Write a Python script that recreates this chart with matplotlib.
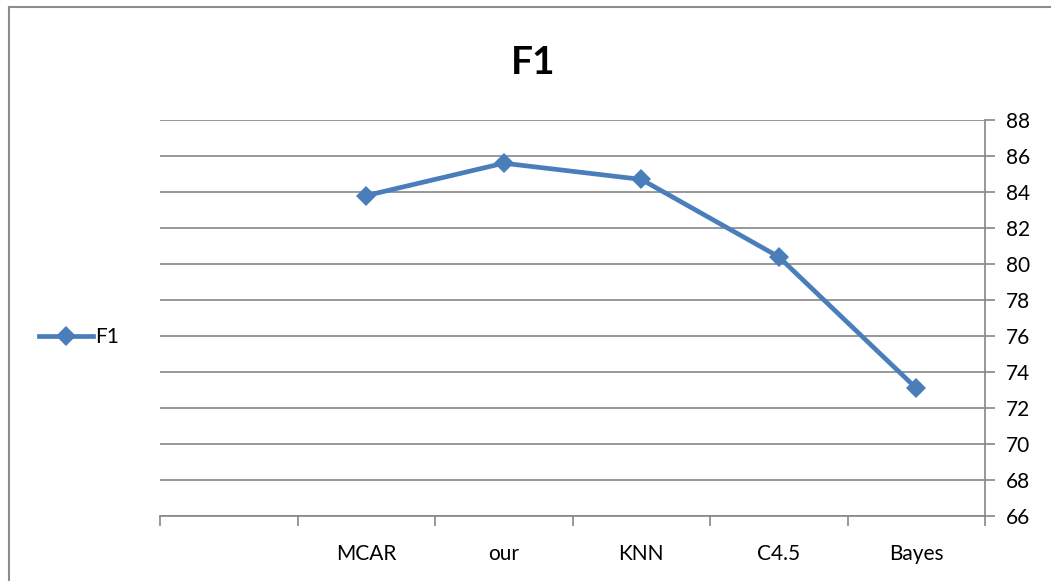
import numpy as np
import matplotlib
matplotlib.use('Agg')
import matplotlib.pyplot as plt
from matplotlib.lines import Line2D

# categories (first slot is empty in the original chart)
categories = ['', 'MCAR', 'our', 'KNN', 'C4.5', 'Bayes']
f1_names = ['MCAR', 'our', 'KNN', 'C4.5', 'Bayes']
f1_values = [83.8, 85.6, 84.7, 80.4, 73.1]
y_ticks = list(range(66, 89, 2))

plt.rcParams['font.family'] = ['Lato', 'DejaVu Sans']

blue = '#4A7EBB'
grid_gray = '#868686'

fig = plt.figure(figsize=(10.51, 5.81), dpi=100)
ax = fig.add_axes([160 / 1051, 1 - 516 / 581, 825 / 1051, 396 / 581])

xpos = [categories.index(n) for n in f1_names]
ax.plot(xpos, f1_values, color=blue, linewidth=3.4, marker='D', markersize=10.5,
        markeredgewidth=0, label='F1', solid_capstyle='round')

ax.set_xlim(-0.5, len(categories) - 0.5)
ax.set_ylim(min(y_ticks), max(y_ticks))

# y axis on the right
ax.yaxis.tick_right()
ax.set_yticks(y_ticks)
ax.tick_params(axis='y', which='major', direction='out', length=7, width=1.2,
               color=grid_gray, labelsize=15, pad=8)
ax.grid(axis='y', color=grid_gray, linewidth=1.2)
ax.set_axisbelow(True)

# x: labels at the centres, tick marks at category boundaries
ax.set_xticks(range(len(categories)))
ax.set_xticklabels(categories)
ax.tick_params(axis='x', which='major', length=0, labelsize=15, pad=20)
ax.set_xticks(np.arange(-0.5, len(categories), 1.0), minor=True)
ax.tick_params(axis='x', which='minor', direction='out', length=7, width=1.2,
               color=grid_gray)

for side in ['top', 'left']:
    ax.spines[side].set_visible(False)
ax.spines['right'].set_color(grid_gray)
ax.spines['right'].set_linewidth(1.2)
ax.spines['bottom'].set_color(grid_gray)
ax.spines['bottom'].set_linewidth(1.2)

fig.text(533 / 1051, 1 - 62 / 581, 'F1', fontsize=28, fontweight='bold',
         ha='center', va='center')

handle = Line2D([], [], color=blue, linewidth=3.4, marker='D', markersize=10.5,
                markeredgewidth=0)
fig.legend([handle], ['F1'], loc='center left',
           bbox_to_anchor=(20 / 1051, 1 - 337 / 581), frameon=False,
           fontsize=15, handlelength=2.6, handletextpad=0.1)

# outer chart border (top and left edges visible)
fig.add_artist(Line2D([9 / 1051, 1], [1 - 7 / 581, 1 - 7 / 581],
                      transform=fig.transFigure, color='#8c8c8c', linewidth=1.5))
fig.add_artist(Line2D([9 / 1051, 9 / 1051], [0, 1 - 7 / 581],
                      transform=fig.transFigure, color='#8c8c8c', linewidth=1.5))

fig.savefig('out.png', dpi=100)
